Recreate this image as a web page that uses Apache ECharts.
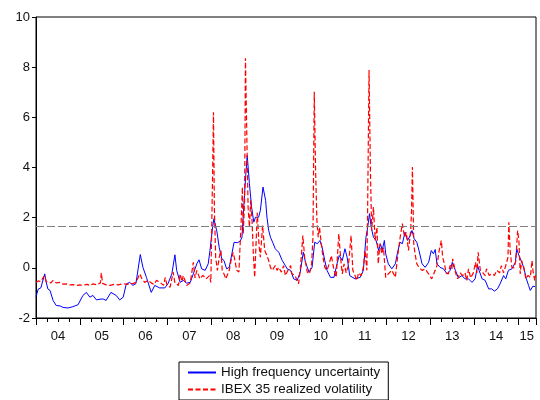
<!DOCTYPE html>
<html>
<head>
<meta charset="utf-8">
<script src="https://cdn.jsdelivr.net/npm/echarts@6/dist/echarts.min.js"></script>
<style>
html,body{margin:0;padding:0;background:#fff;}
#chart{width:540px;height:400px;}
</style>
</head>
<body>
<div id="chart"></div>
<script>
// Decimal-year time stamps and values
var hfuTime = [2004.00,2004.05,2004.11,2004.20,2004.23,2004.27,2004.32,2004.39,2004.46,2004.55,2004.62,2004.73,2004.84,2004.96,
2005.07,2005.15,2005.23,2005.30,2005.38,2005.46,2005.53,2005.60,2005.71,2005.83,2005.91,2005.99,
2006.06,2006.14,2006.21,2006.28,2006.38,2006.44,2006.52,2006.63,2006.71,2006.82,2006.94,
2007.01,2007.10,2007.17,2007.21,2007.29,2007.36,2007.44,2007.52,2007.59,2007.67,2007.72,2007.78,2007.86,2007.93,2007.97,
2008.03,2008.06,2008.13,2008.18,2008.24,2008.29,2008.35,2008.41,2008.47,2008.52,2008.59,2008.66,2008.70,2008.75,2008.79,2008.82,2008.87,2008.92,2008.97,
2009.01,2009.08,2009.12,2009.18,2009.24,2009.27,2009.31,2009.35,2009.40,2009.46,2009.54,2009.62,2009.69,2009.73,2009.81,2009.88,2009.96,
2010.03,2010.10,2010.15,2010.23,2010.30,2010.36,2010.42,2010.48,2010.53,2010.59,2010.64,2010.72,2010.80,2010.87,2010.92,2010.99,
2011.05,2011.10,2011.16,2011.19,2011.28,2011.40,2011.47,2011.53,2011.57,2011.61,2011.65,2011.70,2011.76,2011.82,2011.86,2011.90,2011.95,2011.98,
2012.04,2012.12,2012.20,2012.26,2012.31,2012.36,2012.42,2012.48,2012.54,2012.58,2012.63,2012.69,2012.74,2012.81,2012.88,2012.96,
2013.02,2013.07,2013.11,2013.15,2013.22,2013.30,2013.38,2013.45,2013.50,2013.57,2013.64,2013.72,2013.79,2013.87,2013.95,
2014.02,2014.08,2014.11,2014.18,2014.25,2014.33,2014.40,2014.46,2014.53,2014.59,2014.67,2014.72,2014.78,2014.86,2014.94,2014.97,
2015.02,2015.07,2015.13,2015.19,2015.24,2015.28,2015.34,2015.39];
var hfuValue = [-1.15,-0.85,-0.80,-0.24,-0.55,-0.84,-0.90,-1.30,-1.50,-1.52,-1.58,-1.60,-1.55,-1.47,
-1.10,-0.98,-1.17,-1.10,-1.28,-1.25,-1.24,-1.30,-0.98,-1.10,-1.28,-1.17,
-0.64,-0.58,-0.70,-0.63,0.53,0.02,-0.38,-0.98,-0.70,-0.80,-0.80,
-0.64,-0.24,0.52,-0.10,-0.58,-0.50,-0.61,-0.58,-0.24,0.16,0.32,-0.04,-0.10,0.16,0.69,
1.63,1.96,1.43,0.82,0.36,0.29,-0.04,0.02,0.56,1.02,1.00,1.06,1.22,2.69,3.76,4.49,3.36,2.42,1.82,
2.02,2.02,2.29,3.22,2.69,2.02,1.49,1.22,1.02,0.76,0.62,0.29,0.09,-0.04,-0.10,-0.44,-0.50,
-0.17,0.62,0.22,-0.17,0.02,1.02,0.96,1.09,0.82,0.29,-0.10,-0.38,-0.38,0.16,0.49,0.29,
0.76,0.42,-0.31,-0.38,-0.44,-0.38,-0.10,1.22,1.62,2.16,1.62,1.22,1.09,0.69,0.96,0.70,1.09,0.56,
0.16,-0.04,0.16,0.69,1.02,0.96,1.42,1.09,1.29,1.49,1.16,1.02,0.69,0.16,0.02,0.22,
0.69,0.56,0.73,0.16,0.02,-0.04,-0.24,-0.10,0.22,-0.10,-0.40,-0.31,-0.44,-0.44,-0.58,
-0.44,0.09,-0.10,-0.44,-0.50,-0.84,-0.84,-0.93,-0.84,-0.64,-0.31,-0.44,-0.10,-0.04,0.22,0.76,
0.49,0.29,0.02,-0.44,-0.70,-0.90,-0.73,-0.75];

var ibexTime = [2004.00,2004.05,2004.11,2004.16,2004.20,2004.23,2004.27,2004.34,2004.39,2004.46,2004.55,2004.62,2004.69,2004.78,2004.84,2004.94,
2005.00,2005.07,2005.16,2005.23,2005.30,2005.39,2005.47,2005.49,2005.52,2005.60,2005.69,2005.78,2005.87,2005.99,
2006.08,2006.15,2006.21,2006.28,2006.37,2006.42,2006.48,2006.56,2006.63,2006.69,2006.75,2006.83,2006.91,2006.95,2006.99,
2007.06,2007.13,2007.17,2007.25,2007.29,2007.33,2007.36,2007.44,2007.52,2007.59,2007.63,2007.67,2007.74,2007.81,2007.88,2007.96,2007.99,
2008.03,2008.05,2008.07,2008.10,2008.14,2008.18,2008.22,2008.25,2008.29,2008.33,2008.37,2008.41,2008.45,2008.50,2008.54,2008.58,2008.63,
2008.68,2008.71,2008.73,2008.76,2008.78,2008.81,2008.84,2008.87,2008.90,2008.93,2008.96,2008.99,
2009.05,2009.09,2009.12,2009.17,2009.22,2009.27,2009.31,2009.35,2009.39,2009.46,2009.50,2009.54,2009.60,2009.65,2009.69,2009.75,2009.81,2009.84,2009.91,2009.99,
2010.03,2010.09,2010.13,2010.19,2010.24,2010.29,2010.32,2010.35,2010.38,2010.41,2010.44,2010.47,2010.51,2010.55,2010.59,2010.64,2010.69,2010.74,2010.80,2010.85,2010.91,2010.95,2010.99,
2011.03,2011.08,2011.13,2011.19,2011.23,2011.28,2011.32,2011.36,2011.42,2011.47,2011.51,2011.55,2011.57,2011.60,2011.63,2011.66,2011.70,2011.74,2011.78,2011.81,2011.85,2011.89,2011.93,2011.98,
2012.04,2012.12,2012.20,2012.26,2012.31,2012.36,2012.41,2012.45,2012.50,2012.55,2012.57,2012.59,2012.62,2012.65,2012.69,2012.74,2012.81,2012.88,2012.96,
2013.03,2013.07,2013.11,2013.15,2013.20,2013.25,2013.28,2013.32,2013.36,2013.41,2013.45,2013.49,2013.51,2013.57,2013.62,2013.68,2013.74,2013.79,2013.83,2013.87,2013.92,2013.98,
2014.03,2014.06,2014.09,2014.14,2014.20,2014.25,2014.28,2014.34,2014.40,2014.46,2014.52,2014.58,2014.62,2014.67,2014.72,2014.77,2014.79,2014.82,2014.86,2014.91,2014.95,2014.99,
2015.02,2015.05,2015.08,2015.13,2015.18,2015.23,2015.28,2015.32,2015.34,2015.38,2015.40];
var ibexValue = [-0.58,-0.52,-0.55,-0.40,-0.31,-0.55,-0.48,-0.60,-0.50,-0.60,-0.58,-0.65,-0.64,-0.68,-0.67,-0.70,
-0.68,-0.70,-0.66,-0.70,-0.64,-0.68,-0.60,-0.20,-0.62,-0.68,-0.70,-0.66,-0.68,-0.63,
-0.66,-0.62,-0.63,-0.58,-0.24,-0.45,-0.58,-0.50,-0.60,-0.66,-0.50,-0.58,-0.70,-0.38,-0.70,
-0.77,-0.17,-0.60,-0.70,-0.24,-0.55,-0.31,-0.70,-0.60,0.22,-0.40,-0.10,-0.44,-0.30,-0.44,-0.31,-0.58,
3.76,6.20,2.42,0.42,-0.10,0.42,0.69,-0.10,-0.24,-0.44,-0.44,-0.10,0.29,0.62,0.29,-0.10,-0.17,
1.76,3.22,1.36,2.69,8.36,5.36,2.42,1.62,2.69,1.89,0.56,-0.38,
2.20,0.90,0.42,1.69,0.69,0.49,0.29,0.02,-0.10,0.09,-0.10,0.02,-0.17,0.09,-0.31,-0.10,0.09,-0.24,-0.30,-0.64,
-0.10,1.29,0.42,-0.17,-0.24,0.16,1.22,7.02,3.89,1.89,1.22,1.62,0.96,0.42,0.02,-0.10,0.16,0.49,-0.10,-0.38,1.36,0.42,-0.24,
0.16,-0.20,0.10,1.29,-0.10,-0.31,-0.50,-0.20,-0.31,0.02,0.69,-0.10,2.69,7.89,4.02,1.49,2.42,1.09,1.62,0.16,0.96,0.56,0.80,-0.38,
-0.24,-0.10,-0.38,0.56,1.22,1.76,1.22,1.42,0.69,1.49,2.29,4.02,0.96,0.56,0.16,0.02,-0.10,-0.05,-0.24,
-0.44,-0.50,-0.10,0.09,0.69,1.09,0.42,0.16,-0.20,-0.24,0.10,-0.04,0.36,-0.17,-0.44,-0.20,-0.31,-0.20,-0.50,-0.04,-0.40,-0.20,
0.22,-0.20,0.62,-0.10,-0.20,-0.31,-0.04,-0.30,-0.24,-0.30,-0.10,-0.20,0.09,-0.20,0.09,0.42,1.82,0.69,0.02,0.00,0.29,1.49,
1.09,-0.24,0.29,0.02,-0.44,-0.30,-0.38,0.29,-0.10,-0.50,-0.30];

var yearTicks = [2004,2005,2006,2007,2008,2009,2010,2011,2012,2013,2014,2015];
var yearLabels = ['04','05','06','07','08','09','10','11','12','13','14','15'];
var yearLabelPos = [2004.5,2005.5,2006.5,2007.5,2008.5,2009.5,2010.5,2011.5,2012.5,2013.5,2014.5,2015.2];
var thresholdValue = 1.64;
var seriesNames = ['High frequency uncertainty','IBEX 35 realized volatility'];

function zip(t, v){ var out=[]; for(var i=0;i<t.length;i++) out.push([t[i], v[i]]); return out; }

var font = 'Liberation Sans, Arial, Helvetica, sans-serif';
var chart = echarts.init(document.getElementById('chart'), null, {renderer:'canvas'});
chart.setOption({
  animation:false,
  backgroundColor:'#fff',
  grid:{left:36, top:17, right:4, bottom:82, show:true, borderColor:'#000', borderWidth:1, backgroundColor:'transparent'},
  xAxis:[{
    type:'value', min:2004, max:2015.41, interval:1,
    axisLine:{show:true, onZero:false, lineStyle:{color:'#000', width:1}},
    axisTick:{show:true, inside:false, length:7, lineStyle:{color:'#000'}},
    minorTick:{show:true, splitNumber:4, length:4, lineStyle:{color:'#000'}},
    axisLabel:{show:false},
    splitLine:{show:false}
  },{
    type:'value', min:2004, max:2015.41, position:'bottom',
    axisLine:{show:false, onZero:false}, axisTick:{show:false}, splitLine:{show:false},
    axisLabel:{show:true, customValues:yearLabelPos, margin:12, color:'#111', fontSize:13, fontFamily:font,
      formatter:function(v){ var i=yearLabelPos.indexOf(v); return i>=0 ? yearLabels[i] : ''; }}
  }],
  yAxis:{
    type:'value', min:-2, max:10, interval:2,
    axisLine:{show:true, onZero:false, lineStyle:{color:'#000', width:1}},
    axisTick:{show:true, inside:false, length:4, lineStyle:{color:'#000'}},
    axisLabel:{color:'#111', fontSize:13, fontFamily:font, margin:6},
    splitLine:{show:false}
  },
  legend:{
    orient:'vertical', left:179, top:362, width:211,
    padding:[4,8,4,8], itemGap:4, itemWidth:28, itemHeight:14,
    borderColor:'#000', borderWidth:1, backgroundColor:'#fff',
    itemStyle:{color:'transparent', borderColor:'transparent', borderWidth:0, opacity:0},
    textStyle:{fontSize:13.4, fontFamily:font, color:'#111'},
    data:seriesNames
  },
  series:[{
    name:seriesNames[0], type:'line', xAxisIndex:0, data:zip(hfuTime,hfuValue),
    symbol:'none', showSymbol:false, smooth:false, z:3,
    lineStyle:{color:'#0000ff', width:1},
    itemStyle:{color:'#0000ff'},
    markLine:{silent:true, symbol:'none', label:{show:false},
      lineStyle:{color:'#808080', type:[8,3], width:1},
      data:[{yAxis:thresholdValue}]}
  },{
    name:seriesNames[1], type:'line', xAxisIndex:0, data:zip(ibexTime,ibexValue),
    symbol:'none', showSymbol:false, smooth:false, z:4,
    lineStyle:{color:'#ff0000', width:1.2, type:[5,2.5]},
    itemStyle:{color:'#ff0000'}
  }]
});
</script>
</body>
</html>
